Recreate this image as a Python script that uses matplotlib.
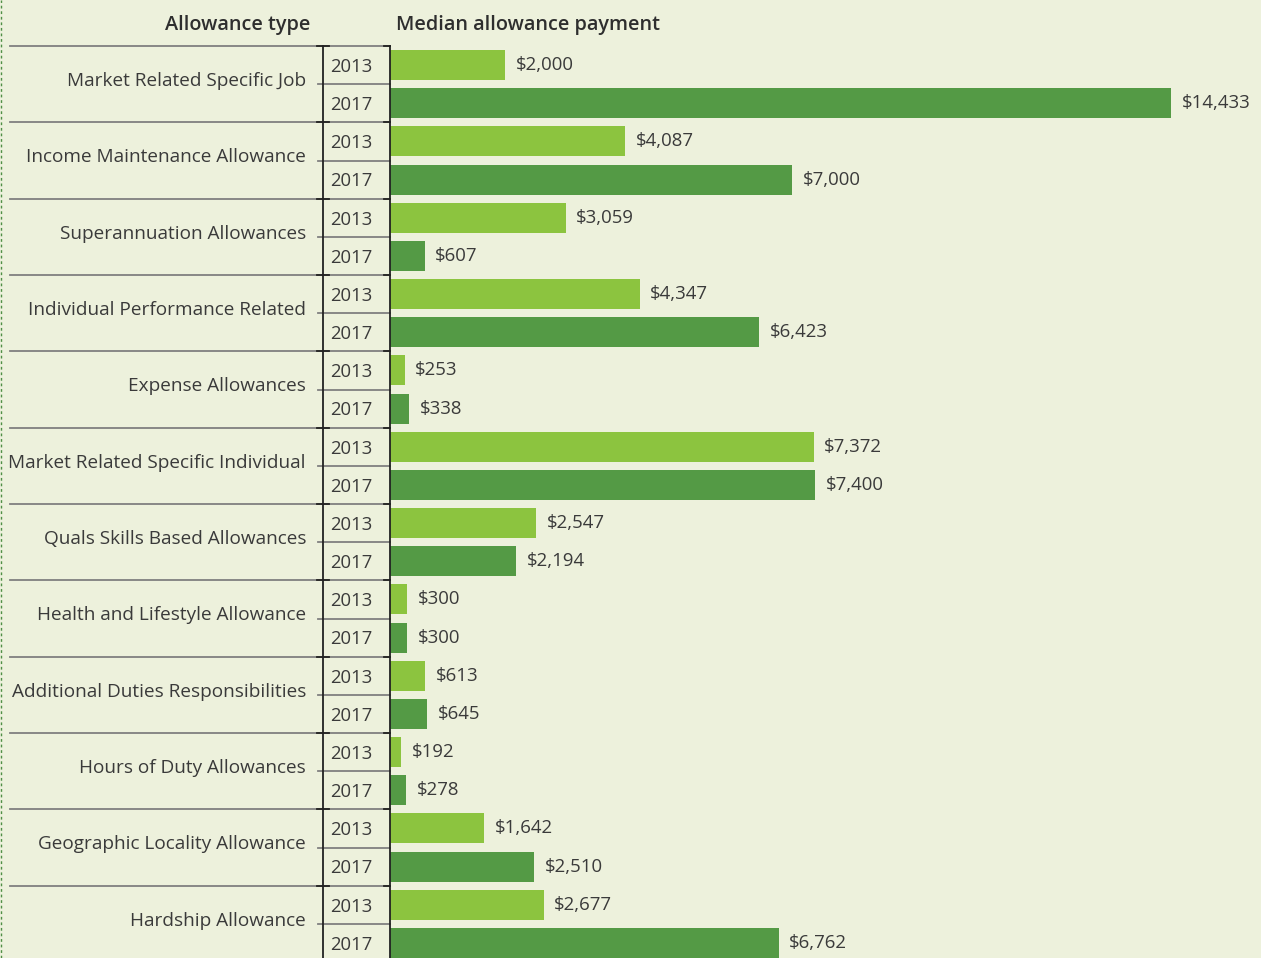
import matplotlib
matplotlib.use("Agg")
import matplotlib.pyplot as plt
from matplotlib.lines import Line2D
from matplotlib.transforms import blended_transform_factory

# data
allowance_types = [
    "Market Related Specific Job",
    "Income Maintenance Allowance",
    "Superannuation Allowances",
    "Individual Performance Related",
    "Expense Allowances",
    "Market Related Specific Individual",
    "Quals Skills Based Allowances",
    "Health and Lifestyle Allowance",
    "Additional Duties Responsibilities",
    "Hours of Duty Allowances",
    "Geographic Locality Allowance",
    "Hardship Allowance",
]
years = ["2013", "2017"]
pay_2013 = [2000, 4087, 3059, 4347, 253, 7372, 2547, 300, 613, 192, 1642, 2677]
pay_2017 = [14433, 7000, 607, 6423, 338, 7400, 2194, 300, 645, 278, 2510, 6762]

plt.rcParams["font.family"] = ["Open Sans", "DejaVu Sans"]

W, H = 1261, 958
bg = "#EDF1DC"
light = "#8CC43F"
dark = "#549A45"
txt = "#3a3a3a"

fig = plt.figure(figsize=(W / 100, H / 100), dpi=100)
fig.patch.set_facecolor(bg)


def fx(px):
    return px / W


def fy(py):
    return 1 - py / H


# bar area (the long 2017 bar is cut at the right edge, as in the original)
top, bottom, left, right = 46, 962, 390, 1171
ax = fig.add_axes([fx(left), fy(bottom), fx(right) - fx(left), (bottom - top) / H])
ax.set_facecolor("none")

n = len(allowance_types)
pos13 = [2 * i for i in range(n)]
pos17 = [2 * i + 1 for i in range(n)]
xmax = 13583
ax.barh(pos13, pay_2013, height=0.79, color=light)
ax.barh(pos17, pay_2017, height=0.79, color=dark)
ax.set_xlim(0, xmax)
ax.set_ylim(2 * n - 0.5, -0.5)
ax.axis("off")

for pos, vals in [(pos13, pay_2013), (pos17, pay_2017)]:
    for y, v in zip(pos, vals):
        ax.annotate(f"${v:,}", xy=(min(v, xmax), y), xytext=(7.5, 0),
                    textcoords="offset points", ha="left", va="center",
                    fontsize=13.4, color=txt, annotation_clip=False)

# left table: lines and labels
tr = blended_transform_factory(fig.transFigure, ax.transData)
grey = "#808080"
for i in range(n + 1):
    ax.plot([fx(10), fx(390)], [2 * i - 0.5] * 2, color=grey, lw=1.3,
            transform=tr, clip_on=False)
    ax.plot([fx(317), fx(329)], [2 * i - 0.5] * 2, color="#222222", lw=1.3,
            transform=tr, clip_on=False)
    ax.plot([fx(384), fx(390)], [2 * i - 0.5] * 2, color="#222222", lw=1.3,
            transform=tr, clip_on=False)
for i in range(n):
    ax.plot([fx(318), fx(390)], [2 * i + 0.5] * 2, color=grey, lw=1.3,
            transform=tr, clip_on=False)
    ax.text(fx(306), 2 * i + 0.42, allowance_types[i], ha="right", va="center",
            fontsize=13.7, color=txt, transform=tr)
    for k, yr in enumerate(years):
        ax.text(fx(330), 2 * i + k + 0.05, yr, ha="left", va="center",
                fontsize=13.3, color=txt, transform=tr)

for xv in (323, 390):
    ax.plot([fx(xv)] * 2, [-0.5, 2 * n - 0.5], color="#222222", lw=1.3,
            transform=tr, clip_on=False)

# headers
fig.text(fx(310), fy(25), "Allowance type", ha="right", va="center",
         fontsize=14.3, fontweight="semibold", color="#2e2e2e")
fig.text(fx(396), fy(25), "Median allowance payment", ha="left", va="center",
         fontsize=14.3, fontweight="semibold", color="#2e2e2e")

# dashed border on the left edge
fig.add_artist(Line2D([fx(1)] * 2, [0, 1], transform=fig.transFigure,
                      color="#4f8f45", lw=1, ls=(0, (2, 2))))

fig.savefig("out.png", dpi=100, facecolor=bg)
